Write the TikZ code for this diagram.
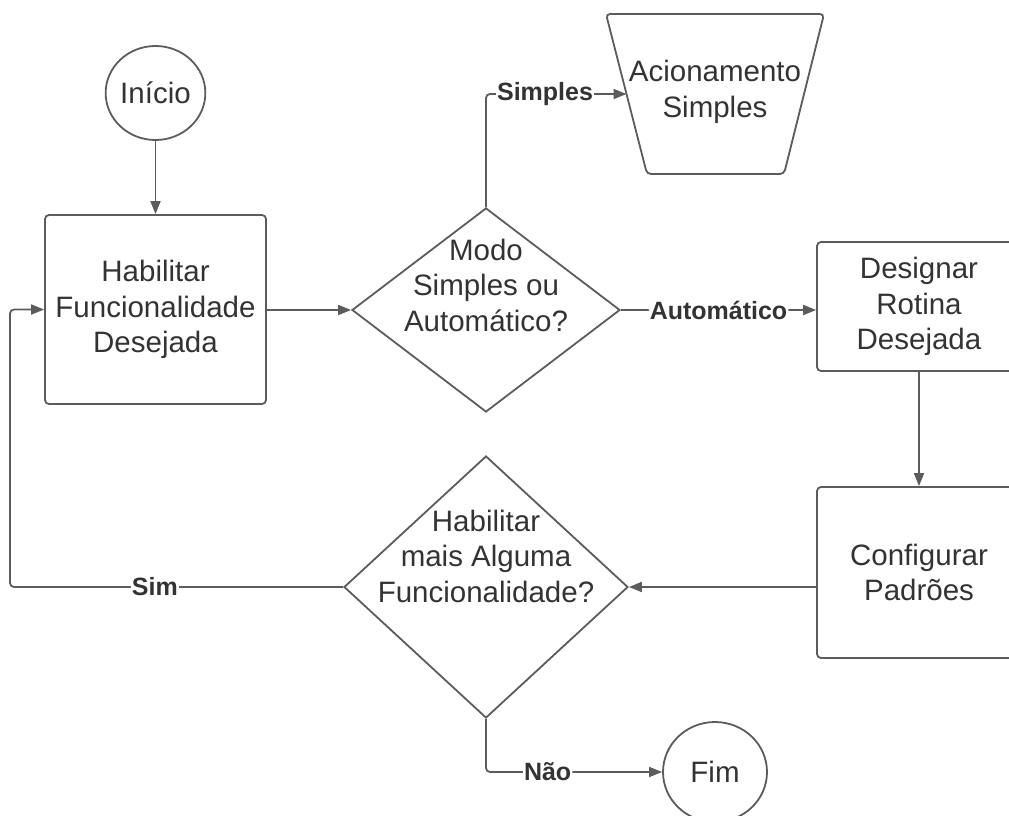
\documentclass[tikz,border=0pt]{standalone}
\usepackage{fontspec}
\setmainfont{Liberation Sans}
\usetikzlibrary{shapes.geometric,arrows.meta}
\definecolor{ln}{HTML}{5C5C5C}
\definecolor{tx}{HTML}{333333}
\begin{document}
\begin{tikzpicture}[x=1pt,y=-1pt,
  shp/.style={draw=ln, line width=1.8pt, text=tx, align=center, inner sep=0pt,
    font=\fontsize{29.5}{35.5}\selectfont},
  box/.style={shp, rectangle, rounded corners=4pt},
  term/.style={shp, ellipse},
  dec/.style={draw=ln, line width=1.8pt, diamond, inner sep=0pt},
  dtext/.style={text=tx, align=center, inner sep=0pt, font=\fontsize{29.5}{35.5}\selectfont},
  arr/.style={draw=ln, line width=1.8pt, rounded corners=4pt, -{Triangle[length=13pt,width=10pt]}},
  lbl/.style={fill=white, text=tx, inner sep=1pt, font=\fontsize{25}{30}\selectfont\bfseries}]
\useasboundingbox (0,0) rectangle (1009,816);
\clip (0,0) rectangle (1009,816);

% nodes
\node[term, minimum width=97pt, minimum height=94pt] (ini) at (155.5,93) {Início};
\node[box, minimum width=221pt, minimum height=189pt] (b1) at (155.5,309.5) {Habilitar\\Funcionalidade\\Desejada};
\node[dec, minimum width=268pt, minimum height=204pt] (d1) at (486,310) {};
\node[dtext] (d1t) at (486,285) {Modo\\Simples ou\\Automático?};
% manual trapezoid (Acionamento Simples)
\draw[draw=ln, line width=1.8pt, rounded corners=4pt]
  (606,14) -- (824,14) -- (784,174) -- (647,174) -- cycle;
\node[dtext] (acion) at (715,92) {Acionamento\\Simples};
\coordinate (acionw) at (626.5,94);
\node[box, minimum width=204pt, minimum height=129pt] (b2) at (919,306.5) {Designar\\Rotina\\Desejada};
\node[box, minimum width=204pt, minimum height=171pt] (b3) at (919,572.5) {Configurar\\Padrões};
\node[dec, minimum width=284pt, minimum height=262pt] (d2) at (486,587) {};
\node[dtext] (d2t) at (486,556) {Habilitar\\mais Alguma\\Funcionalidade?};
\node[term, minimum width=104pt, minimum height=100pt] (fim) at (715,772) {Fim};
\coordinate (loop) at (10,587);

% connectors
\draw[arr] (ini.south) -- (b1.north);
\draw[arr] (b1.east |- d1.west) -- (d1.west);
\draw[arr] (d1.north) |- node[lbl, pos=0.71] {Simples} (acionw);
\draw[arr] (d1.east) -- node[lbl] {Automático} (b2.west |- d1.east);
\draw[arr] (b2.south) -- (b3.north);
\draw[arr] (b3.west |- d2.east) -- (d2.east);
\draw[arr] (d2.west) -- node[lbl, pos=0.565] {Sim} (loop) |- (b1.west);
\draw[arr] (d2.south) |- node[lbl, pos=0.675] {Não} (fim.west);
\end{tikzpicture}
\end{document}
